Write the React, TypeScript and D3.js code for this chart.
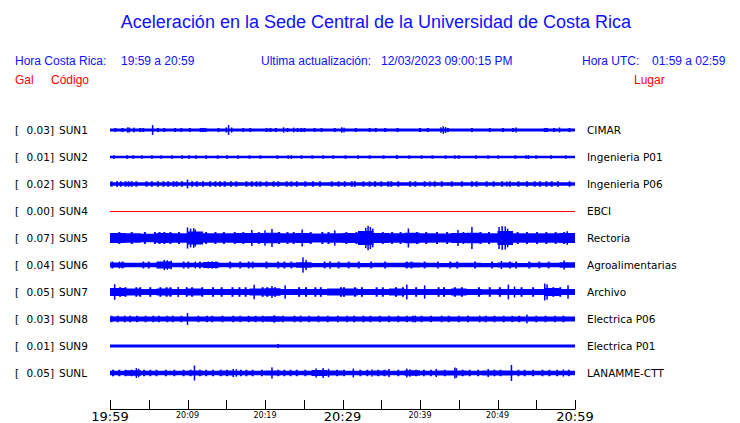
import React from "react";
import * as d3 from "d3";

// stations, top to bottom
const codes = ["SUN1", "SUN2", "SUN3", "SUN4", "SUN5", "SUN6", "SUN7", "SUN8", "SUN9", "SUNL"];
const places = ["CIMAR", "Ingenieria P01", "Ingenieria P06", "EBCI", "Rectoria", "Agroalimentarias", "Archivo", "Electrica P06", "Electrica P01", "LANAMME-CTT"];
const peakGal = ["0.03", "0.01", "0.02", "0.00", "0.07", "0.04", "0.05", "0.03", "0.01", "0.05"];

// amplitude envelope (gal), one value per 2 minutes
const envelopes: number[][] = [
  [0.009, 0.009, 0.009, 0.009, 0.009, 0.009, 0.009, 0.009, 0.009, 0.009, 0.009, 0.009, 0.009, 0.009, 0.009, 0.009, 0.009, 0.009, 0.009, 0.009, 0.009, 0.009, 0.009, 0.009, 0.009, 0.009, 0.009, 0.009, 0.009, 0.009],
  [0.0075, 0.0075, 0.0075, 0.0075, 0.0075, 0.0075, 0.0075, 0.0075, 0.0075, 0.0075, 0.0075, 0.0075, 0.0075, 0.0075, 0.0075, 0.0075, 0.0075, 0.0075, 0.0075, 0.0075, 0.0075, 0.0075, 0.0075, 0.0075, 0.0075, 0.0075, 0.0075, 0.0075, 0.0075, 0.0075],
  [0.0105, 0.0105, 0.0105, 0.0105, 0.0105, 0.0105, 0.0105, 0.0105, 0.0105, 0.0105, 0.0105, 0.0105, 0.0105, 0.0105, 0.0105, 0.0105, 0.0105, 0.0105, 0.0105, 0.0105, 0.0105, 0.0105, 0.0105, 0.0105, 0.0105, 0.0105, 0.0105, 0.0105, 0.0105, 0.0105],
  [0, 0, 0, 0, 0, 0, 0, 0, 0, 0, 0, 0, 0, 0, 0, 0, 0, 0, 0, 0, 0, 0, 0, 0, 0, 0, 0, 0, 0, 0],
  [0.029, 0.028, 0.025, 0.029, 0.028, 0.038, 0.028, 0.028, 0.029, 0.029, 0.031, 0.028, 0.029, 0.027, 0.028, 0.029, 0.041, 0.029, 0.028, 0.031, 0.028, 0.027, 0.029, 0.031, 0.028, 0.041, 0.028, 0.028, 0.028, 0.029],
  [0.015, 0.013, 0.013, 0.02, 0.013, 0.013, 0.017, 0.013, 0.013, 0.013, 0.013, 0.013, 0.016, 0.0125, 0.013, 0.013, 0.0125, 0.013, 0.013, 0.015, 0.013, 0.0125, 0.013, 0.013, 0.0125, 0.015, 0.0125, 0.013, 0.013, 0.016],
  [0.024, 0.021, 0.018, 0.021, 0.018, 0.021, 0.018, 0.018, 0.018, 0.021, 0.022, 0.018, 0.017, 0.018, 0.021, 0.021, 0.018, 0.018, 0.02, 0.018, 0.018, 0.017, 0.02, 0.017, 0.016, 0.017, 0.018, 0.017, 0.024, 0.018],
  [0.015, 0.015, 0.015, 0.015, 0.015, 0.015, 0.015, 0.015, 0.015, 0.015, 0.016, 0.015, 0.015, 0.015, 0.015, 0.015, 0.015, 0.015, 0.015, 0.015, 0.015, 0.015, 0.015, 0.015, 0.015, 0.015, 0.015, 0.015, 0.015, 0.015],
  [0.009, 0.009, 0.009, 0.009, 0.009, 0.009, 0.009, 0.009, 0.009, 0.009, 0.009, 0.009, 0.009, 0.009, 0.009, 0.009, 0.009, 0.009, 0.009, 0.009, 0.009, 0.009, 0.009, 0.009, 0.009, 0.009, 0.009, 0.009, 0.009, 0.009],
  [0.013, 0.016, 0.013, 0.013, 0.013, 0.014, 0.013, 0.014, 0.013, 0.013, 0.014, 0.013, 0.013, 0.018, 0.014, 0.013, 0.013, 0.014, 0.013, 0.016, 0.013, 0.014, 0.015, 0.013, 0.014, 0.014, 0.013, 0.013, 0.013, 0.013],
];

// small ragged ticks along each trace (minute) and their amplitude (gal)
const tickAmp = [0.012, 0.01, 0.016, 0, 0.035, 0.02, 0.028, 0.019, 0, 0.019];
const ticks: number[][] = [
  [0.7, 1.6, 3.9, 4.3, 6.2, 7.0, 8.4, 9.2, 10.3, 11.7, 12.0, 12.3, 14.0, 17.2, 18.1, 20.2, 20.7, 21.4, 22.9, 24.2, 24.7, 25.1, 26.4, 27.3, 29.0, 31.7, 33.5, 34.3, 35.5, 37.1, 40.0, 41.0, 43.6, 46.7, 49.0, 50.7, 52.0, 56.1, 56.4, 57.3, 59.3],
  [0.5, 2.2, 3.0, 4.1, 5.4, 6.6, 8.0, 9.3, 11.1, 12.4, 13.9, 15.1, 16.5, 18.0, 19.4, 21.6, 23.0, 24.7, 26.1, 27.5, 28.8, 30.4, 32.0, 33.5, 35.3, 37.0, 38.6, 40.2, 41.6, 43.3, 45.0, 47.2, 48.8, 50.1, 52.3, 53.7, 55.0, 56.9, 58.8],
  [0.2, 0.9, 1.4, 2.0, 2.4, 2.8, 3.4, 4.7, 5.4, 6.2, 6.9, 7.5, 8.2, 8.6, 9.3, 10.6, 11.2, 12.0, 12.9, 13.6, 14.2, 14.8, 16.3, 17.6, 18.3, 18.9, 19.4, 20.2, 21.1, 21.7, 22.8, 23.4, 24.1, 25.2, 26.2, 27.1, 28.6, 29.5, 30.3, 31.2, 31.6, 32.7, 33.5, 34.2, 35.0, 35.9, 36.3, 37.2, 38.7, 39.4, 40.6, 41.9, 42.8, 44.1, 45.4, 46.7, 47.3, 48.6, 49.5, 50.6, 51.6, 52.7, 53.8, 54.8, 55.5, 56.3, 57.0, 57.8, 59.3],
  [],
  [1.2, 2.8, 4.5, 5.8, 6.4, 7.0, 7.8, 8.9, 12.4, 13.6, 14.7, 16.1, 17.2, 19.2, 21.8, 22.9, 23.7, 25.9, 27.4, 28.2, 30.5, 31.8, 35.2, 36.4, 37.5, 39.6, 40.8, 42.2, 43.5, 45.6, 47.8, 48.9, 52.6, 53.8, 55.1, 56.3, 57.5, 58.6],
  [0.3, 1.6, 4.3, 5.0, 9.5, 10.1, 11.6, 12.7, 13.7, 15.5, 16.8, 17.9, 20.2, 21.7, 22.5, 23.4, 27.7, 29.5, 30.8, 32.1, 33.7, 35.5, 38.3, 38.9, 40.6, 42.3, 43.9, 44.8, 47.1, 49.3, 51.6, 52.4, 54.1, 55.4, 56.6],
  [1.3, 2.0, 3.4, 3.9, 5.2, 6.5, 7.3, 7.8, 9.9, 10.6, 11.9, 13.3, 14.4, 15.8, 16.7, 17.5, 19.7, 20.3, 21.3, 24.4, 25.3, 26.5, 27.2, 29.8, 30.2, 31.6, 32.5, 34.4, 35.2, 36.9, 37.8, 39.5, 42.4, 43.1, 44.5, 45.4, 47.6, 49.0, 50.3, 53.1, 54.6, 57.2, 58.1],
  [0.2, 1.0, 1.9, 2.6, 3.5, 4.6, 5.6, 6.3, 7.4, 8.1, 9.2, 11.4, 12.5, 13.2, 14.5, 15.9, 16.8, 17.9, 18.8, 19.7, 21.2, 22.3, 23.8, 24.6, 25.7, 26.9, 28.1, 29.4, 30.6, 31.5, 32.7, 33.6, 34.8, 36.0, 37.2, 38.3, 39.1, 40.2, 41.4, 42.8, 43.7, 45.0, 46.2, 48.5, 49.6, 50.8, 51.9, 52.8, 55.0, 56.2, 57.4, 58.5],
  [],
  [0.4, 1.2, 2.0, 2.8, 4.4, 5.2, 6.0, 7.2, 8.3, 9.5, 10.4, 11.6, 12.4, 13.3, 14.3, 15.1, 16.9, 17.6, 18.4, 19.6, 21.7, 22.5, 23.3, 24.1, 25.2, 29.3, 30.2, 32.3, 33.2, 34.6, 35.4, 37.2, 39.5, 40.5, 41.4, 43.2, 45.5, 46.4, 47.5, 49.6, 50.4, 52.7, 53.5, 54.6, 55.8, 56.7, 57.7, 59.2],
];

// larger spikes: [minute, gal]
const peaks: [number, number][][] = [
  [[2.3, 0.016], [2.5, 0.014], [3.1, 0.014], [5.5, 0.029], [15.0, 0.015], [15.3, 0.029], [15.7, 0.015], [22.4, 0.016], [23.7, 0.014], [29.9, 0.016], [30.2, 0.014], [42.7, 0.016], [43.0, 0.022], [43.3, 0.018], [52.4, 0.015], [58.0, 0.015]],
  [[10.2, 0.011], [23.4, 0.011], [37.0, 0.011], [44.5, 0.011], [54.0, 0.011]],
  [[10.0, 0.026], [15.6, 0.018], [41.3, 0.016], [51.2, 0.015]],
  [],
  [[10.0, 0.062], [10.4, 0.055], [10.8, 0.058], [11.0, 0.05], [18.3, 0.047], [20.0, 0.045], [20.9, 0.053], [24.8, 0.05], [29.0, 0.045], [33.0, 0.06], [33.3, 0.072], [33.6, 0.065], [33.9, 0.055], [38.5, 0.056], [44.9, 0.047], [46.7, 0.065], [50.2, 0.065], [50.6, 0.07], [51.0, 0.068], [51.3, 0.055], [59.0, 0.04]],
  [[1.2, 0.02], [7.0, 0.03], [7.4, 0.028], [7.9, 0.025], [11.0, 0.02], [13.2, 0.022], [18.4, 0.02], [24.9, 0.045], [25.3, 0.03], [28.4, 0.022], [50.5, 0.024], [58.6, 0.027]],
  [[0.6, 0.046], [8.8, 0.03], [18.6, 0.043], [20.9, 0.035], [22.6, 0.039], [38.3, 0.044], [40.6, 0.039], [51.4, 0.043], [52.2, 0.032], [56.1, 0.05], [56.4, 0.045], [59.1, 0.04]],
  [[10.0, 0.035], [21.2, 0.022], [39.4, 0.02], [47.7, 0.02], [53.8, 0.026]],
  [[21.7, 0.012]],
  [[0.4, 0.018], [3.4, 0.029], [3.7, 0.025], [10.9, 0.044], [15.9, 0.024], [16.3, 0.022], [20.9, 0.033], [26.6, 0.027], [27.5, 0.029], [28.2, 0.025], [31.4, 0.026], [33.8, 0.021], [36.0, 0.024], [38.3, 0.026], [38.7, 0.022], [42.1, 0.024], [44.5, 0.032], [44.7, 0.028], [48.8, 0.024], [51.8, 0.047], [58.5, 0.021]],
];

// time axis
const axisTicks = d3.range(0, 61, 5);
const labelMinutes = [0, 10, 20, 30, 40, 50, 60];
const labelTexts = ["19:59", "20:09", "20:19", "20:29", "20:39", "20:49", "20:59"];
const majorMinutes = [0, 30, 60];

const W = 740;
const H = 423;
const sans = "'Liberation Sans', Arial, sans-serif";
const deja = "'DejaVu Sans', sans-serif";
const blue = "#1010ff";

export default function App() {
  const x = d3.scaleLinear().domain([0, 60]).range([110, 575]);
  const rowY = d3.scaleLinear().domain([0, codes.length - 1]).range([130, 373]);
  const amp = d3.scaleLinear().domain([-0.08, 0.08]).range([13.6, -13.6]);

  const band = (env: number[]) => {
    const pts: [number, number][] = env.map((v, i) => [i * 2, v]);
    pts.push([60, env[env.length - 1]]);
    return d3
      .area<[number, number]>()
      .x((d) => x(d[0]))
      .y0((d) => amp(-d[1]))
      .y1((d) => amp(d[1]))
      .curve(d3.curveStepAfter)(pts);
  };

  return (
    <svg
      width={W}
      height={H}
      style={{ position: "absolute", left: 0, top: 0, background: "#fff" }}
    >
      <text x={376} y={28} textAnchor="middle" fontFamily={sans} fontSize={18} fill={blue}>
        Aceleración en la Sede Central de la Universidad de Costa Rica
      </text>

      <g fontFamily={sans} fontSize={12} fill={blue}>
        <text x={15} y={65}>Hora Costa Rica:</text>
        <text x={121} y={65}>19:59 a 20:59</text>
        <text x={261} y={65}>Ultima actualización:</text>
        <text x={381} y={65}>12/03/2023 09:00:15 PM</text>
        <text x={582} y={65}>Hora UTC:</text>
        <text x={652} y={65}>01:59 a 02:59</text>
      </g>
      <g fontFamily={sans} fontSize={12} fill="#ff0000">
        <text x={15} y={84}>Gal</text>
        <text x={51} y={84}>Código</text>
        <text x={634} y={84}>Lugar</text>
      </g>

      {codes.map((code, i) => {
        const cy = rowY(i);
        const flat = envelopes[i].every((v) => v === 0);
        return (
          <g key={code}>
            <g fontFamily={deja} fontSize={10.5} fill="#000">
              <text x={15} y={cy + 4}>[</text>
              <text x={54} y={cy + 4} textAnchor="end">{peakGal[i]}]</text>
              <text x={59} y={cy + 4}>{code}</text>
              <text x={587} y={cy + 4}>{places[i]}</text>
            </g>
            {flat ? (
              <line x1={x(0)} x2={x(60)} y1={cy + 0.5} y2={cy + 0.5} stroke="#ff0000" strokeWidth={1} />
            ) : (
              <g transform={`translate(0,${cy})`} fill="#0000ff">
                <path d={band(envelopes[i]) ?? ""} />
                {ticks[i].map((m, k) => (
                  <rect key={"t" + k} x={x(m) - 1} width={2} y={amp(tickAmp[i])} height={amp(-tickAmp[i]) - amp(tickAmp[i])} />
                ))}
                {peaks[i].map(([m, v], k) => (
                  <rect key={"p" + k} x={x(m) - 0.75} width={1.5} y={amp(v)} height={amp(-v) - amp(v)} />
                ))}
              </g>
            )}
          </g>
        );
      })}

      <g stroke="#000" strokeWidth={1}>
        <line x1={x(0)} x2={x(60)} y1={409.5} y2={409.5} />
        {axisTicks.map((m) => (
          <line key={m} x1={Math.round(x(m)) + 0.5} x2={Math.round(x(m)) + 0.5} y1={400} y2={409.5} />
        ))}
      </g>
      <g fontFamily={deja} fill="#000" textAnchor="middle">
        {labelMinutes.map((m, i) => {
          const major = majorMinutes.includes(m);
          return (
            <text key={m} x={x(m)} y={major ? 421 : 418} fontSize={major ? 13 : 8}>
              {labelTexts[i]}
            </text>
          );
        })}
      </g>
    </svg>
  );
}
